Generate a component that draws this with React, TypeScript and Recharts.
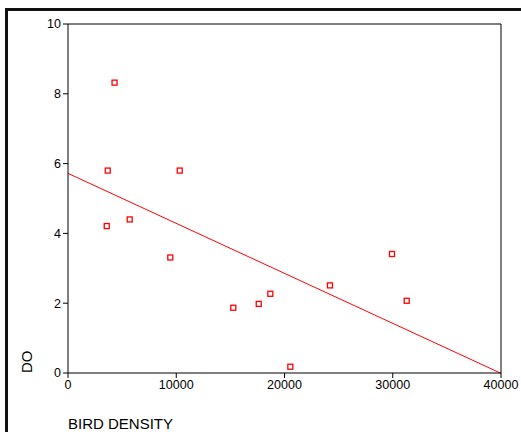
import { ScatterChart, Scatter, XAxis, YAxis, ReferenceLine } from "recharts";

// bird density (x) against dissolved oxygen (y)
const birdDensity = [4300, 3670, 10320, 3580, 5700, 9450, 15270, 17620, 18690, 24200, 31290, 20540, 29930];
const dissolvedOxygen = [8.32, 5.8, 5.8, 4.21, 4.4, 3.31, 1.87, 1.98, 2.27, 2.51, 2.07, 0.18, 3.41];

const xTicks = [0, 10000, 20000, 30000, 40000];
const yTicks = [0, 2, 4, 6, 8, 10];

// fitted line end points
const fitX = [0, 40000];
const fitY = [5.72, -0.01];

const FONT = '"Liberation Sans", Arial, sans-serif';

const points = birdDensity.map((x, i) => ({ x, y: dissolvedOxygen[i] }));

function SquareMarker(props: any) {
  const { cx, cy } = props;
  if (cx == null || cy == null) return null;
  return <rect x={cx - 2.5} y={cy - 2.5} width={5} height={5} fill="#fff" stroke="#ff0000" strokeWidth={1.3} />;
}

function XLabel(props: any) {
  const vb = props.viewBox || {};
  return (
    <text x={vb.x} y={vb.y + 55.5} fontSize={15} fontFamily={FONT} fill="#000">
      BIRD DENSITY
    </text>
  );
}

function YLabel(props: any) {
  const vb = props.viewBox || {};
  const x = 31.5;
  const y = vb.y + vb.height;
  return (
    <text x={x} y={y} transform={`rotate(-90, ${x}, ${y})`} fontSize={15} fontFamily={FONT} fill="#000">
      DO
    </text>
  );
}

export default function App() {
  return (
    <div style={{ position: "absolute", left: 0, top: 0, width: 521, height: 432, background: "#fff", overflow: "hidden" }}>
      <div
        style={{
          position: "absolute",
          left: 5,
          top: 8,
          width: 516,
          height: 424,
          borderLeft: "3px solid #111",
          borderTop: "3px solid #111",
          boxSizing: "border-box",
        }}
      />
      <div style={{ position: "absolute", left: 0, top: 0 }}>
        <ScatterChart width={521} height={432} margin={{ top: 24, right: 20, bottom: 0, left: 0 }}>
          <XAxis
            type="number"
            dataKey="x"
            domain={[0, 40000]}
            ticks={xTicks}
            interval={0}
            height={59}
            stroke="#000"
            tickSize={5}
            tickMargin={2}
            tick={{ fill: "#000", fontSize: 12.5, fontFamily: FONT }}
            tickLine={{ stroke: "#000" }}
            allowDataOverflow
            label={<XLabel />}
          />
          <YAxis
            type="number"
            dataKey="y"
            domain={[0, 10]}
            ticks={yTicks}
            interval={0}
            width={68}
            stroke="#000"
            tickSize={5}
            tickMargin={2}
            tick={{ fill: "#000", fontSize: 12.5, fontFamily: FONT }}
            tickLine={{ stroke: "#000" }}
            allowDataOverflow
            label={<YLabel />}
          />
          <ReferenceLine y={10} stroke="#000" strokeWidth={1} />
          <ReferenceLine x={40000} stroke="#000" strokeWidth={1} />
          <ReferenceLine
            segment={[
              { x: fitX[0], y: fitY[0] },
              { x: fitX[1], y: fitY[1] },
            ]}
            stroke="#ff0000"
            strokeWidth={1}
            ifOverflow="visible"
          />
          <Scatter data={points} shape={<SquareMarker />} isAnimationActive={false} />
        </ScatterChart>
      </div>
    </div>
  );
}
